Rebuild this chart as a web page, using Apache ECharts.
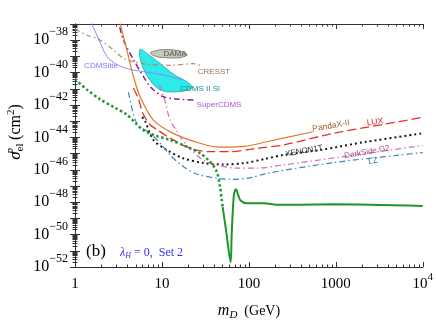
<!DOCTYPE html>
<html><head><meta charset="utf-8">
<script src="https://cdn.jsdelivr.net/npm/echarts@6/dist/echarts.min.js"></script>
<style>html,body{margin:0;padding:0;background:#fff}#c{width:436px;height:323px}</style>
</head><body><div id="c"></div>
<script>
// ---- data (masses in GeV, cross sections as log10(sigma / cm^2)) ----
const xTickLabels = ['1', '10', '100', '1000', '10^4'];
const yLabelExponents = [-52, -50, -48, -46, -44, -42, -40, -38];

const greenDotM = [1, 1.37, 1.95, 2.77, 3.95, 5.14, 6.1, 8, 12.4, 19.3, 27.4, 35.7, 42.6, 46.5, 48.6, 50];
const greenDotS = [-40.4, -41.05, -41.65, -42.12, -42.6, -43.2, -43.55, -43.85, -44.16, -44.57, -44.98, -45.5, -46.1, -47.0, -47.8, -48.3];
const greenM = [50, 55, 61.7, 63.3, 66.1, 67.8, 71, 75.4, 80.3, 94, 150, 208, 385, 920, 10000];
const greenS = [-48.3, -49.85, -51.7, -50.1, -48.07, -47.45, -47.2, -47.56, -47.9, -48.07, -48.07, -48.15, -48.15, -48.13, -48.23];

const luxM = [4.67, 5.33, 6.08, 7.31, 8.8, 12.4, 21, 35.7, 60.5, 122, 248, 927, 3800, 10000];
const luxS = [-40.95, -41.57, -42.56, -43.22, -43.53, -44.04, -44.67, -44.88, -44.88, -44.67, -44.47, -43.75, -43.17, -42.76];

const pandaM = [3.1, 3.31, 4.12, 4.7, 5.61, 7.98, 13.5, 27.4, 46.5, 90, 160, 547];
const pandaS = [-36.4, -37.0, -39.0, -40.25, -41.49, -42.93, -43.75, -44.36, -44.6, -44.55, -44.27, -43.65];

const xenonM = [5.92, 6.4, 7.98, 11.4, 17.6, 29.9, 50.7, 90, 153, 246, 653, 2240, 10000];
const xenonS = [-42.74, -42.99, -44.16, -44.78, -45.29, -45.58, -45.67, -45.58, -45.33, -45.09, -44.78, -44.27, -43.75];

const lzM = [4.12, 5.14, 7.31, 9.52, 12.4, 17.6, 25.1, 42.6, 60.5, 103, 160, 927, 5400, 10000];
const lzS = [-41.2, -43.13, -43.75, -44.36, -45.09, -45.8, -46.26, -46.52, -46.59, -46.5, -46.22, -45.56, -45.09, -44.94];

const dsM = [9.35, 10.9, 12.4, 14.8, 16.2, 21.6, 29.9, 42.6, 72.3, 122, 248, 1208, 10000];
const dsS = [-40.77, -41.8, -42.93, -43.6, -43.96, -44.78, -45.4, -45.7, -45.9, -45.9, -45.7, -45.19, -44.5];

const superM = [3.27, 3.61, 4.7, 6.13, 7.65, 10.4, 14.8, 24];
const superS = [-37.2, -38.0, -39.2, -40.25, -40.97, -41.49, -41.63, -41.7];

const cresstM = [1, 1.37, 1.95, 2.77, 3.61, 4.7, 6.13, 7.31, 12.4, 23, 27.4];
const cresstS = [-37.33, -37.68, -38.0, -38.6, -39.12, -39.33, -39.45, -39.5, -39.55, -39.45, -39.55];

const cdmsliteM = [1.54, 1.95, 2.33, 3.03, 4.31, 6.13, 10.4, 17.0];
const cdmsliteS = [-36.9, -38.15, -39.0, -39.5, -39.8, -39.94, -40.15, -40.45];

const cdmsSiM = [5.61, 6.7, 9.52, 13.5, 19.3, 22.2, 20.0, 14.8, 10.4, 8.35, 7.0, 6.08, 5.61];
const cdmsSiS = [-38.56, -38.82, -39.43, -40.09, -40.56, -40.89, -41.07, -41.18, -41.14, -40.83, -40.33, -39.72, -39.1];

const damaM = [7.31, 8.5, 10.9, 14.5, 17.5, 19.5, 17.0, 14.1, 11.0, 9.0];
const damaS = [-38.79, -38.65, -38.58, -38.62, -38.73, -38.9, -39.05, -39.1, -39.08, -39.04];

// ---- helpers ----
const pts = (m, s) => m.map((v, i) => [Math.log10(v), s[i]]);
const minorX = [];
for (let k = 0; k < 4; k++) for (let d = 2; d <= 9; d++) minorX.push(k + Math.log10(d));
const minorY = [];
for (let k = -52; k < -37; k++) for (let d = 2; d <= 9; d++) minorY.push(k + Math.log10(d));

const SERIF = "'Liberation Serif','DejaVu Serif',serif";
const SANS = "'Liberation Sans','DejaVu Sans',sans-serif";
const FRAME = '#333';

function xAxis(pos, major, labels) {
  return {
    type: 'value', min: 0, max: 4, interval: 1, position: pos,
    axisLine: { show: major, lineStyle: { color: FRAME, width: 1 } },
    axisTick: major ? { inside: true, length: 5, lineStyle: { color: FRAME } }
                    : { inside: true, length: 2.5, lineStyle: { color: FRAME }, customValues: minorX },
    axisLabel: labels ? {
      margin: 5, color: '#000', fontFamily: SERIF, fontSize: 15,
      formatter: v => {
        const t = xTickLabels[Math.round(v)];
        if (t.indexOf('^') > 0) { const p = t.split('^'); return '{b|' + p[0] + '}{s|' + p[1] + '}'; }
        return '{b|' + t + '}';
      },
      rich: { b: { fontFamily: SERIF, fontSize: 15, color: '#000', lineHeight: 24 },
              s: { fontFamily: SERIF, fontSize: 11, color: '#000', verticalAlign: 'top', lineHeight: 24 } }
    } : { show: false },
    splitLine: { show: false }
  };
}
function yAxis(pos, major, labels) {
  return {
    type: 'value', min: -52, max: -37, interval: 1, position: pos,
    axisLine: { show: major, lineStyle: { color: FRAME, width: 1 } },
    axisTick: major ? { inside: true, length: 5, lineStyle: { color: FRAME } }
                    : { inside: true, length: 2.5, lineStyle: { color: FRAME }, customValues: minorY },
    axisLabel: labels ? {
      margin: 7, color: '#000',
      formatter: v => {
        const e = Math.round(v);
        if (yLabelExponents.indexOf(e) < 0) return '';
        return '{b|10}{s|\u2212' + (-e) + '}';
      },
      rich: { b: { fontFamily: SERIF, fontSize: 16, color: '#000', lineHeight: 28 },
              s: { fontFamily: SERIF, fontSize: 12, color: '#000', verticalAlign: 'top', lineHeight: 28 } }
    } : { show: false },
    splitLine: { show: false }
  };
}

function lineSeries(m, s, color, width, dash, z) {
  return {
    type: 'line', xAxisIndex: 0, yAxisIndex: 0, data: pts(m, s), showSymbol: false, symbol: 'none',
    smooth: 0.3, clip: true, z: z || 2,
    lineStyle: { color: color, width: width, type: dash || 'solid', cap: 'butt' }
  };
}
function polySeries(m, s, fill, stroke, z) {
  return {
    type: 'custom', xAxisIndex: 0, yAxisIndex: 0, data: [0], z: z || 1,
    renderItem: (params, api) => ({
      type: 'polygon',
      shape: { points: m.map((v, i) => api.coord([Math.log10(v), s[i]])), smooth: 0.4 },
      style: { fill: fill, stroke: stroke, lineWidth: 0.8 }
    })
  };
}
function txt(x, y, text, color, size, rot, font) {
  return { type: 'text', x: x, y: y, rotation: (rot || 0) * Math.PI / 180,
    style: { text: text, fill: color, font: (size || 8) + 'px ' + (font || SANS), align: 'center', verticalAlign: 'middle' }, z: 10 };
}

const chart = echarts.init(document.getElementById('c'), null, { renderer: 'canvas' });
chart.setOption({
  animation: false,
  grid: { left: 75, right: 13, top: 24, bottom: 56 },
  xAxis: [xAxis('bottom', true, true), xAxis('bottom', false, false), xAxis('top', true, false), xAxis('top', false, false)],
  yAxis: [yAxis('left', true, true), yAxis('left', false, false), yAxis('right', true, false), yAxis('right', false, false)],
  series: [
    polySeries(cdmsSiM, cdmsSiS, '#2eeaea', '#1aa8a8', 1),
    polySeries(damaM, damaS, '#c9c9bb', '#6f6f60', 1),
    lineSeries(cdmsliteM, cdmsliteS, '#8a8af2', 1),
    lineSeries(cresstM, cresstS, '#b8865a', 1.2, [5, 3, 1.5, 3]),
    lineSeries(superM, superS, '#8c1f9c', 1.5, [6, 3, 1.5, 3]),
    lineSeries(pandaM, pandaS, '#e07b25', 1.2),
    lineSeries(luxM, luxS, '#e8302a', 1.3, [9, 4]),
    lineSeries(xenonM, xenonS, '#1a1a1a', 2, [2, 3]),
    lineSeries(dsM, dsS, '#d070b0', 1.2, [6, 3, 1.5, 3]),
    lineSeries(lzM, lzS, '#3a88b8', 1.2, [6, 3, 1.5, 3]),
    lineSeries(greenDotM, greenDotS, '#1e962a', 2.5, [2.5, 2.5], 3),
    lineSeries(greenM, greenS, '#1e962a', 2, 'solid', 3)
  ],
  graphic: [
    txt(101, 66, 'CDMSlite', '#7a7aff', 8),
    txt(175, 54, 'DAMA', '#555', 8),
    txt(214, 72, 'CRESST', '#a0704a', 8),
    txt(200, 89, 'CDMS II Si', '#178a8a', 8),
    txt(219, 105, 'SuperCDMS', '#b050d8', 8),
    txt(331, 126, 'PandaX-II', '#a0602a', 8.5, 10),
    txt(375, 122, 'LUX', '#e02020', 8.5, 8),
    txt(304, 151, 'XENON1T', '#333', 8, 10),
    txt(367, 152, 'DarkSide G2', '#a04a8a', 8, 10),
    txt(373, 161, 'LZ', '#2a6a9a', 8, 10),
    txt(96, 252, '(b)', '#000', 17, 0, SERIF),
    { type: 'text', x: 120, y: 253, z: 10,
      style: { text: '{i|λ}{sub|H}{n| = 0,  Set 2}', verticalAlign: 'middle', align: 'left',
        rich: { i: { font: 'italic 12px ' + SERIF, fill: '#3535ff' },
                sub: { font: 'italic 8px ' + SERIF, fill: '#3535ff', verticalAlign: 'bottom', padding: [6, 0, 0, 0] },
                n: { font: '12px ' + SERIF, fill: '#3535ff' } } } },
    { type: 'text', x: 249, y: 311, z: 10,
      style: { text: '{i|m}{sub|D}{n|  (GeV)}', align: 'center', verticalAlign: 'middle',
        rich: { i: { font: 'italic 16px ' + SERIF, fill: '#000' },
                sub: { font: 'italic 11px ' + SERIF, fill: '#000', padding: [8, 0, 0, 0] },
                n: { font: '14px ' + SERIF, fill: '#000' } } } },
    { type: 'text', x: 16, y: 132, z: 10, rotation: Math.PI / 2,
      style: { text: '{i|σ}{sub|el}{sup|p}{n|  (cm}{sup2|2}{n|)}', align: 'center', verticalAlign: 'middle',
        rich: { i: { font: 'italic 17px ' + SERIF, fill: '#000' },
                sub: { font: '11px ' + SERIF, fill: '#000', padding: [8, 0, 0, 0] },
                sup: { font: 'italic 11px ' + SERIF, fill: '#000', padding: [0, 0, 12, -10] },
                sup2: { font: '11px ' + SERIF, fill: '#000', padding: [0, 0, 10, 0] },
                n: { font: '16px ' + SERIF, fill: '#000' } } } }
  ]
});
</script></body></html>
